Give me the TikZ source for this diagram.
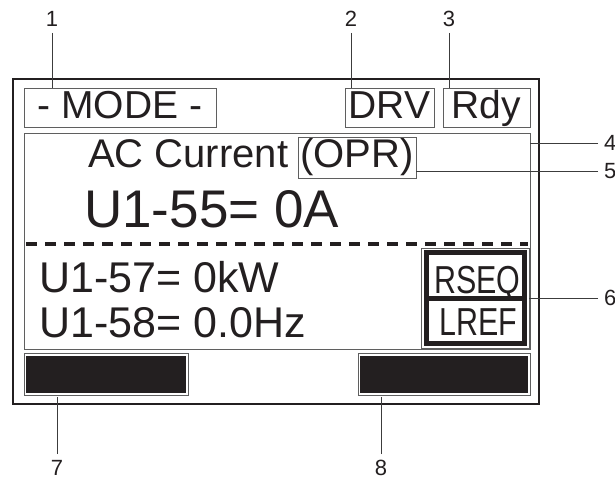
\documentclass[tikz,border=0pt]{standalone}
\usepackage{fontspec}
\setmainfont{Liberation Sans}
\usetikzlibrary{positioning, calc}
\definecolor{inkblack}{RGB}{35, 31, 32}
\definecolor{framegray}{RGB}{95, 95, 95}
\definecolor{leadgray}{RGB}{60, 60, 60}

\begin{document}
\begin{tikzpicture}[x=1pt, y=-1pt,
  field/.style={draw=framegray, line width=0.8pt, inner sep=0pt, text=inkblack,
    text height=22pt, text depth=0pt, font=\fontsize{39}{39}\selectfont},
  readout/.style={anchor=base west, inner sep=0pt, text=inkblack},
  callout/.style={inner sep=2pt, outer sep=4pt, text=inkblack, text height=15.8pt,
    text depth=0pt, font=\fontsize{22}{22}\selectfont},
  leader/.style={draw=leadgray, line width=0.8pt},
  softkey/.style={draw=framegray, line width=0.8pt, inner sep=0pt},
  tag/.style={text=inkblack, inner sep=0pt, xscale=0.78, text height=28pt, text depth=0pt,
    font=\fontsize{39}{39}\selectfont}]
  \useasboundingbox (0,0) rectangle (615,480);

  % Outer frame of the display
  \node[draw=inkblack, line width=2pt, minimum width=526, minimum height=325] (lcd) at (276,241.5) {};

  % Top row - mode, DRV and Rdy fields
  \node[field, minimum width=192, minimum height=39] (mode) at (120,107.5) {- MODE -};
  \node[field, minimum width=89, minimum height=39] (drv) at (389.5,107.5) {DRV};
  \node[field, minimum width=87, minimum height=39] (rdy) at (486.5,107.5) {Rdy};

  % Data area
  \node[field, minimum width=506, minimum height=216] (main) at (277,241) {};
  \node[readout, font=\fontsize{40}{40}\selectfont] (title) at (88,167) {AC Current};
  \node[field, font=\fontsize{40}{40}\selectfont, text height=20pt, minimum width=118, minimum height=41] (opr) at (357,157.5) {(OPR)};
  \node[readout, font=\fontsize{53}{53}\selectfont] (mon55) at (84,227) {U1-55= 0A};
  \draw[inkblack, line width=4pt, dash pattern=on 11pt off 8pt] (26,244) -- (528,244);
  \node[readout, font=\fontsize{43}{43}\selectfont] (mon57) at (39,292) {U1-57= 0kW};
  \node[readout, font=\fontsize{43}{43}\selectfont] (mon58) at (39,337) {U1-58= 0.0Hz};

  % LO/RE indicators
  \node[softkey, minimum width=108, minimum height=100] (seq) at (475,298) {};
  \draw[inkblack, line width=5pt] (426.5,252.5) rectangle (524.5,343.5);
  \draw[inkblack, line width=5pt] (426.5,298) -- (524.5,298);
  \node[tag] (rseq) at (477.5,279) {RSEQ};
  \node[tag] (lref) at (478.5,321) {LREF};

  % Function key bars
  \node[softkey, minimum width=164, minimum height=42] (keyleft) at (106,374) {};
  \node[softkey, minimum width=172, minimum height=42] (keyright) at (444,374) {};
  \fill[inkblack] (26,355.5) rectangle (186,392.5);
  \fill[inkblack] (360,355.5) rectangle (528,392.5);

  % Callout numbers
  \node[callout] (n1) at (52,19) {1};
  \node[callout] (n2) at (351,19) {2};
  \node[callout] (n3) at (449,19) {3};
  \node[callout, anchor=west] (n4) at (598,143) {4};
  \node[callout, anchor=west] (n5) at (598,171) {5};
  \node[callout, anchor=west] (n6) at (598,298) {6};
  \node[callout] (n7) at (57,468) {7};
  \node[callout] (n8) at (381,468) {8};

  % Leader lines
  \draw[leader] (n1.south) -- (n1.south |- mode.north);
  \draw[leader] (n2.south) -- (n2.south |- drv.north);
  \draw[leader] (n3.south) -- (n3.south |- rdy.north);
  \draw[leader] (n4.west) -- (n4.west -| main.east);
  \draw[leader] (n5.west) -- (n5.west -| opr.east);
  \draw[leader] (n6.west) -- (n6.west -| seq.east);
  \draw[leader] (n7.north) -- ($(n7.north |- keyleft.south)+(0,2)$);
  \draw[leader] (n8.north) -- ($(n8.north |- keyright.south)+(0,2)$);
\end{tikzpicture}
\end{document}
